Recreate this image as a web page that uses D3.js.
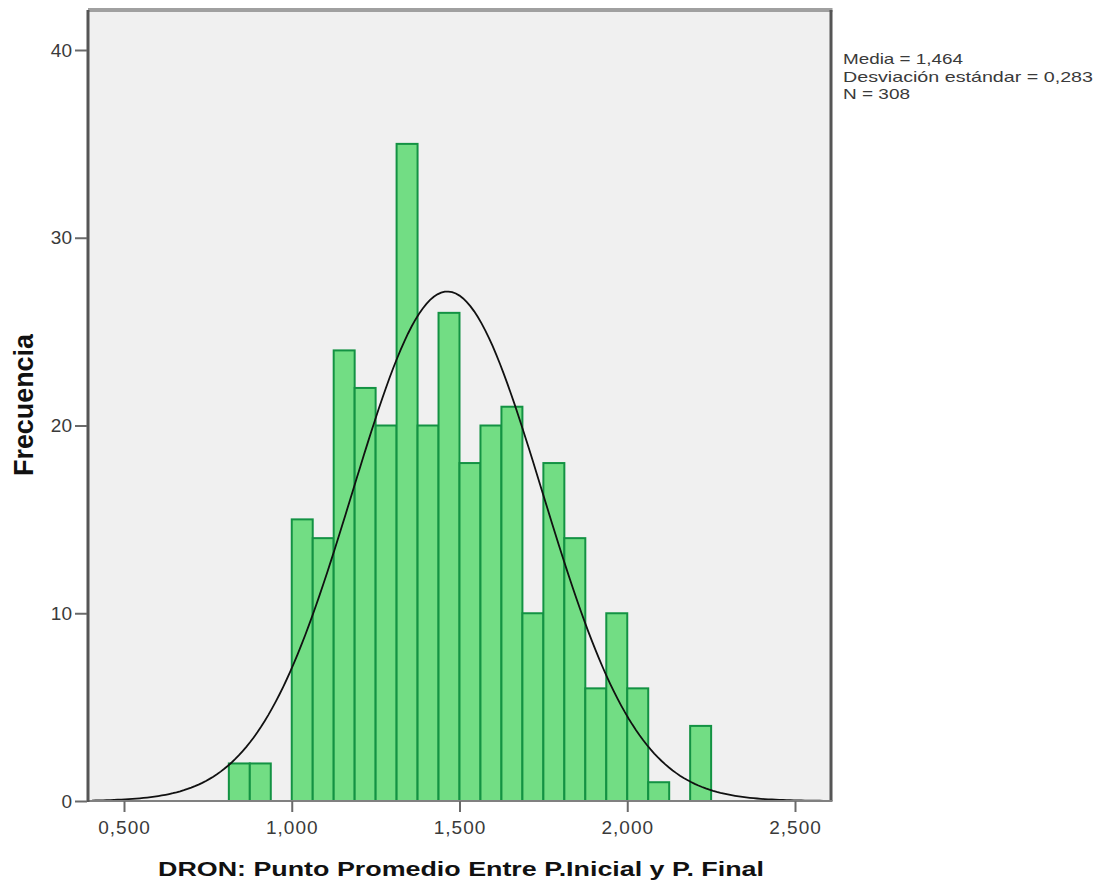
<!DOCTYPE html>
<html>
<head>
<meta charset="utf-8">
<script src="https://cdn.jsdelivr.net/npm/d3@7"></script>
<style>
  body { margin: 0; background: #fff; }
  text { font-family: "Liberation Sans", Arial, sans-serif; }
</style>
</head>
<body>
<svg id="chart" width="1103" height="884"></svg>
<script>
// histogram bins (lower edge) and frequencies
const binLow = [0.8125, 0.875, 1.0, 1.0625, 1.125, 1.1875, 1.25, 1.3125, 1.375, 1.4375,
                1.5, 1.5625, 1.625, 1.6875, 1.75, 1.8125, 1.875, 1.9375, 2.0, 2.0625, 2.1875];
const counts = [2, 2, 15, 14, 24, 22, 20, 35, 20, 26, 18, 20, 21, 10, 18, 14, 6, 10, 6, 1, 4];
const binWidth = 0.0625;

const xTicks = [0.5, 1.0, 1.5, 2.0, 2.5];
const xTickLabels = ["0,500", "1,000", "1,500", "2,000", "2,500"];
const yTicks = [0, 10, 20, 30, 40];

const media = 1.464, sd = 0.283, n = 308;
const statLines = ["Media = 1,464", "Desviación estándar = 0,283", "N = 308"];

const svg = d3.select("#chart");

var x = d3.scaleLinear().domain([0.5, 2.5]).range([124, 795]);
var y = d3.scaleLinear().domain([0, 40]).range([801, 50]);

const pLeft = 88, pRight = 831, pTop = 10, pBottom = 801;

// plot background
svg.append("rect")
    .attr("x", pLeft).attr("y", pTop)
    .attr("width", pRight - pLeft).attr("height", pBottom - pTop)
    .attr("fill", "#f0f0f0");

// bars
svg.selectAll(".bar")
    .data(binLow)
    .enter()
    .append("rect")
    .attr("class", "bar")
    .attr("x", function(d) { return x(d); })
    .attr("y", function(d, i) { return y(counts[i]); })
    .attr("width", function(d) { return x(d + binWidth) - x(d); })
    .attr("height", function(d, i) { return y(0) - y(counts[i]); })
    .attr("fill", "#72dd84")
    .attr("stroke", "#139243")
    .attr("stroke-width", 2);

// normal curve from the reported mean / sd / N
var scaleK = n * binWidth / (sd * Math.sqrt(2 * Math.PI));
var x0 = x.invert(pLeft + 4), x1 = x.invert(pRight - 4);
var xs = d3.range(0, 201).map(function(i) { return x0 + (x1 - x0) * i / 200; });
var curve = d3.line()
    .x(function(d) { return x(d); })
    .y(function(d) { return y(scaleK * Math.exp(-0.5 * Math.pow((d - media) / sd, 2))); });

svg.append("path")
    .datum(xs)
    .attr("d", curve)
    .attr("fill", "none")
    .attr("stroke", "#111")
    .attr("stroke-width", 1.8);

// frame
svg.append("line").attr("x1", pLeft).attr("x2", pRight + 1.5).attr("y1", pTop).attr("y2", pTop)
    .attr("stroke", "#a0a0a0").attr("stroke-width", 4);
svg.append("line").attr("x1", pRight).attr("x2", pRight).attr("y1", pTop).attr("y2", pBottom)
    .attr("stroke", "#555").attr("stroke-width", 3);
svg.append("line").attr("x1", pLeft).attr("x2", pRight + 1.5).attr("y1", pBottom).attr("y2", pBottom)
    .attr("stroke", "#808080").attr("stroke-width", 2);
svg.append("line").attr("x1", pLeft).attr("x2", pLeft).attr("y1", pTop).attr("y2", pBottom + 1)
    .attr("stroke", "#555").attr("stroke-width", 3);

// axes
var xAxis = d3.axisBottom(x)
    .tickValues(xTicks)
    .tickFormat(function(d, i) { return xTickLabels[i]; })
    .tickSize(11)
    .tickPadding(6);
var gX = svg.append("g")
    .attr("transform", "translate(0," + pBottom + ")")
    .call(xAxis);

var yAxis = d3.axisLeft(y)
    .tickValues(yTicks)
    .tickSize(12)
    .tickPadding(3);
var gY = svg.append("g")
    .attr("transform", "translate(" + (pLeft - 1) + ",0)")
    .call(yAxis);

[gX, gY].forEach(function(g) {
  g.select(".domain").remove();
  g.selectAll(".tick line").attr("stroke", "#6a6a6a").attr("stroke-width", 2);
  g.selectAll(".tick text")
      .attr("fill", "#3a3a3a")
      .style("font-size", "19px");
});
gX.selectAll(".tick text").attr("dy", "0.85em").style("letter-spacing", "1px");

// stats block
var statWidths = [120, 250, 67];
svg.append("g").selectAll("text")
    .data(statLines)
    .enter()
    .append("text")
    .attr("x", 843)
    .attr("y", function(d, i) { return 64 + i * 17.5; })
    .attr("textLength", function(d, i) { return statWidths[i]; })
    .attr("lengthAdjust", "spacingAndGlyphs")
    .attr("fill", "#3a3a3a")
    .style("font-size", "15px")
    .text(function(d) { return d; });

// axis titles
svg.append("text")
    .attr("x", 461)
    .attr("y", 876)
    .attr("text-anchor", "middle")
    .attr("textLength", 606)
    .attr("lengthAdjust", "spacingAndGlyphs")
    .attr("fill", "#111")
    .style("font-size", "21px")
    .style("font-weight", "bold")
    .text("DRON: Punto Promedio Entre P.Inicial y P. Final");

svg.append("text")
    .attr("transform", "translate(33,405) rotate(-90) scale(1,1.35)")
    .attr("text-anchor", "middle")
    .attr("textLength", 142)
    .attr("lengthAdjust", "spacingAndGlyphs")
    .attr("fill", "#111")
    .style("font-size", "21px")
    .style("font-weight", "bold")
    .text("Frecuencia");
</script>
</body>
</html>
